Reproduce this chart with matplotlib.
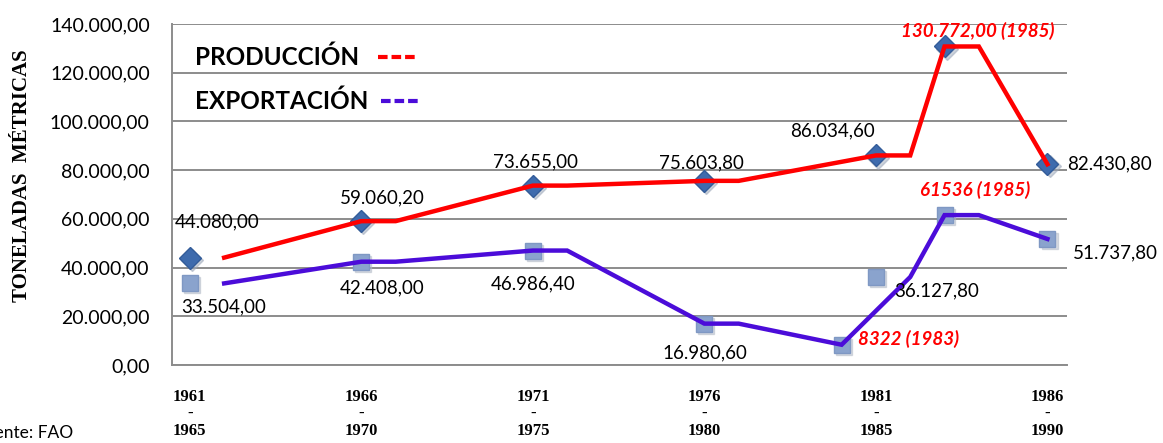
import matplotlib
matplotlib.use("Agg")
import matplotlib.pyplot as plt
from matplotlib.lines import Line2D
from matplotlib import transforms

# ---- data ----
categories = ["1961\n-\n1965", "1966\n-\n1970", "1971\n-\n1975", "1976\n-\n1980", "1981\n-\n1985", "1986\n-\n1990"]
cat_years = [1961, 1966, 1971, 1976, 1981, 1986]

prod_mark_x = [1961, 1966, 1971, 1976, 1981, 1983, 1986]
prod_mark_y = [44080.00, 59060.20, 73655.00, 75603.80, 86034.60, 130772.00, 82430.80]
exp_mark_x = [1961, 1966, 1971, 1976, 1980, 1981, 1983, 1986]
exp_mark_y = [33504.00, 42408.00, 46986.40, 16980.60, 8322.00, 36127.80, 61536.00, 51737.80]

prod_line_x = [1962, 1966, 1967, 1971, 1972, 1976, 1977, 1981, 1982, 1983, 1984, 1986]
prod_line_y = [44080.00, 59060.20, 59060.20, 73655.00, 73655.00, 75603.80, 75603.80,
               86034.60, 86034.60, 130772.00, 130772.00, 82430.80]
exp_line_x = [1962, 1966, 1967, 1971, 1972, 1976, 1977, 1980, 1982, 1983, 1984, 1986]
exp_line_y = [33504.00, 42408.00, 42408.00, 46986.40, 46986.40, 16980.60, 16980.60,
              8322.00, 36127.80, 61536.00, 61536.00, 51737.80]

series_names = ["PRODUCCIÓN", "EXPORTACIÓN"]

def es(v):
    s = f"{v:,.2f}"
    return s.replace(",", "X").replace(".", ",").replace("X", ".")

RED = "#FF0000"
PURPLE = "#4B0CD9"
GRID = "#8C8C8C"

W, H = 1163, 443
fig = plt.figure(figsize=(W / 100, H / 100), dpi=100)
ax = fig.add_axes([172 / W, 78 / H, (1067 - 172) / W, (365 - 24) / H])

ax.set_ylim(0, 140000)
ax.set_xlim(1960.48, 1986.57)
ax.set_yticks(range(0, 140001, 20000))
ax.set_yticklabels([es(v) for v in range(0, 140001, 20000)], fontfamily="Lato", fontsize=14)
ax.yaxis.grid(True, color=GRID, linewidth=1.4)
ax.set_axisbelow(True)
ax.tick_params(axis="y", length=0, pad=16)

ax.set_xticks(cat_years)
ax.set_xticklabels(categories, fontfamily="Liberation Serif", fontweight="bold", fontsize=12,
                   linespacing=1.12)
ax.tick_params(axis="x", length=0, pad=17)

for s in ["top", "right"]:
    ax.spines[s].set_visible(False)
for s in ["left", "bottom"]:
    ax.spines[s].set_color(GRID)
    ax.spines[s].set_linewidth(1.4)

# lines
ax.plot(prod_line_x, prod_line_y, color=RED, linewidth=3.2, solid_joinstyle="miter", zorder=3)
ax.plot(exp_line_x, exp_line_y, color=PURPLE, linewidth=3.2, solid_joinstyle="miter", zorder=3)

# markers with soft shadow
sh = transforms.offset_copy(ax.transData, fig=fig, x=1.5, y=-1.5, units="points")
ax.plot(prod_mark_x, prod_mark_y, linestyle="none", marker="D", markersize=11.5,
        color="#9aa6b8", alpha=0.5, transform=sh, zorder=2)
ax.plot(exp_mark_x, exp_mark_y, linestyle="none", marker="s", markersize=11,
        color="#b0b8c6", alpha=0.5, transform=sh, zorder=2)
ax.plot(prod_mark_x, prod_mark_y, linestyle="none", marker="D", markersize=11.5,
        markerfacecolor="#3E6BAD", markeredgecolor="#335C99", zorder=2.5)
ax.plot(exp_mark_x, exp_mark_y, linestyle="none", marker="s", markersize=11,
        markerfacecolor="#8AA3CD", markeredgecolor="#7F98C3", zorder=2.5)

# data labels (offsets in points)
lab_font = dict(fontfamily="Lato", fontsize=13.5, color="black")
prod_offsets = [(20, 26), (15, 17), (2, 17), (-2, 13), (-31, 18), None, (14, 0)]
for x, y, off in zip(prod_mark_x, prod_mark_y, prod_offsets):
    if off is None:
        continue
    ha = "left" if x == 1986 else "center"
    ax.annotate(es(y), (x, y), xytext=off, textcoords="offset points",
                ha=ha, va="center", zorder=5, **lab_font)
exp_offsets = [(24, -17), (15, -19), (0, -24), (0, -21), None, (44, -10), None, (18, -10)]
for x, y, off in zip(exp_mark_x, exp_mark_y, exp_offsets):
    if off is None:
        continue
    ha = "left" if x == 1986 else "center"
    ax.annotate(es(y), (x, y), xytext=off, textcoords="offset points",
                ha=ha, va="center", zorder=5, **lab_font)

red_font = dict(fontfamily="Lato", fontsize=13.5, color=RED, fontweight="bold", fontstyle="italic")
ax.annotate("130.772,00 (1985)", (1983, 130772), xytext=(24, 11), textcoords="offset points",
            ha="center", va="center", zorder=5, **red_font)
ax.annotate("61536 (1985)", (1983, 61536), xytext=(22, 18), textcoords="offset points",
            ha="center", va="center", zorder=5, **red_font)
ax.annotate("8322 (1983)", (1980, 8322), xytext=(12, 4), textcoords="offset points",
            ha="left", va="center", zorder=5, **red_font)

# legend (drawn manually: label then dashed key to its right)
leg_font = dict(fontfamily="Lato", fontweight="bold", fontsize=17.5, color="black")
leg_rows = [(57, 378, 417, RED), (101, 381, 420, PURPLE)]
for name, (yy, x0, x1, col) in zip(series_names, leg_rows):
    fig.text(195 / W, 1 - yy / H, name, ha="left", va="center", **leg_font)
    fig.add_artist(Line2D([x0 / W, x1 / W], [1 - yy / H, 1 - yy / H], color=col,
                          linewidth=3, linestyle=(0, (2.3, 0.95))))

fig.text(22 / W, 1 - 176 / H, "TONELADAS  MÉTRICAS", rotation=90, ha="center", va="center",
         fontfamily="Liberation Serif", fontweight="bold", fontsize=15)
fig.text(-25 / W, 1 - 433 / H, "Fuente: FAO", ha="left", va="center", fontfamily="Lato", fontsize=12.5)

fig.savefig("out.png", dpi=100)
